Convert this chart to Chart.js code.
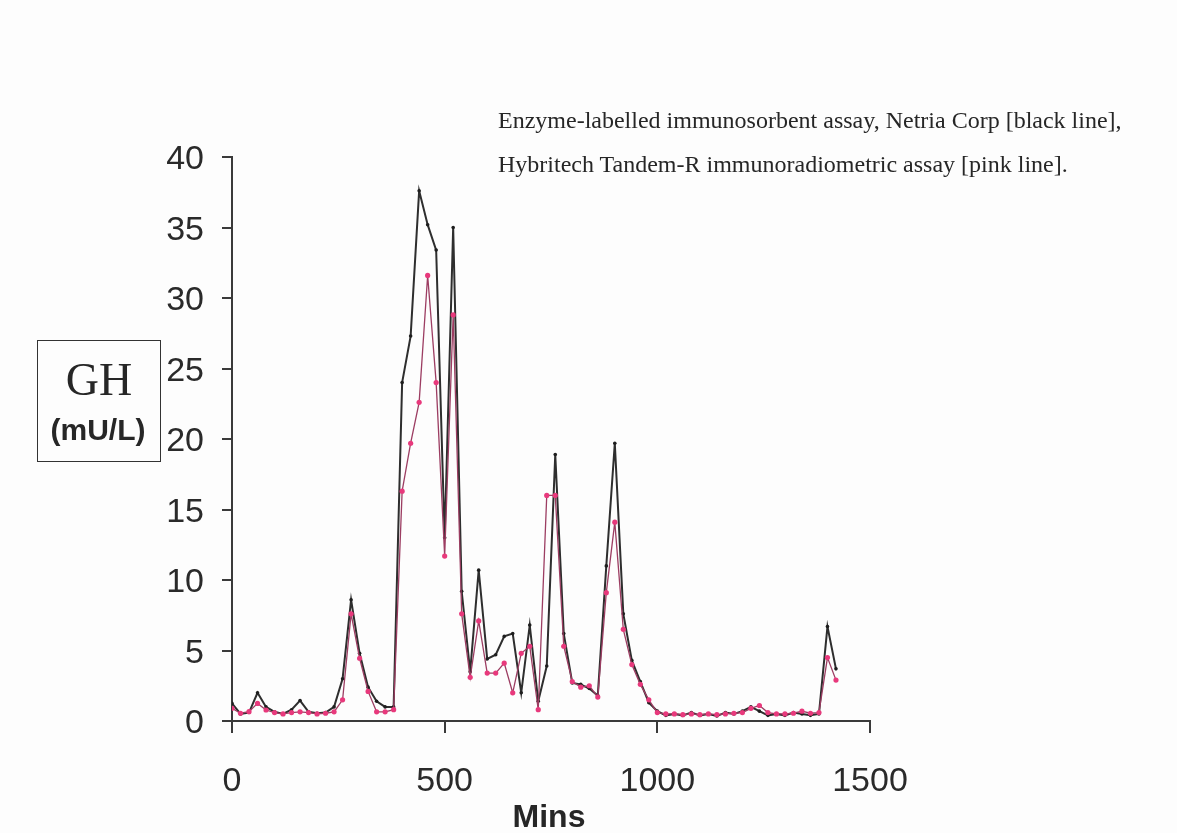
<!DOCTYPE html>
<html>
<head>
<meta charset="utf-8">
<script src="https://cdn.jsdelivr.net/npm/chart.js@4.4.1/dist/chart.umd.min.js"></script>
<style>
  html, body { margin: 0; padding: 0; background: #fdfdfd; }
  #wrap { position: relative; width: 1177px; height: 833px; overflow: hidden; }
  #chart { position: absolute; left: 0; top: 0; }
  .txt { position: absolute; color: #262626; white-space: nowrap; }
  .legend { font-family: "Liberation Serif", "Times New Roman", serif; font-size: 24px; line-height: 24px; transform: translateY(-50%); }
  #ghbox { position: absolute; left: 37px; top: 340px; width: 124px; height: 122px; box-sizing: border-box; border: 1.5px solid #333; }
  .center { transform: translate(-50%, -50%); }
</style>
</head>
<body>
<div id="wrap">
  <canvas id="chart" width="1177" height="833"></canvas>
  <div class="txt legend" style="left:498px; top:120px;">Enzyme-labelled immunosorbent assay, Netria Corp [black line],</div>
  <div class="txt legend" style="left:498px; top:164px;">Hybritech Tandem-R immunoradiometric assay [pink line].</div>
  <div id="ghbox"></div>
  <div class="txt center" style="left:99px; top:380px; font-family:'Liberation Serif',serif; font-size:46px; line-height:46px;">GH</div>
  <div class="txt center" style="left:98px; top:430px; font-family:'Liberation Sans',Arial,sans-serif; font-weight:bold; font-size:30px; line-height:30px;">(mU/L)</div>
  <div class="txt center" style="left:549px; top:816px; font-family:'Liberation Sans',Arial,sans-serif; font-weight:bold; font-size:32px; line-height:32px;">Mins</div>
</div>
<script>
// sampling times (minutes), every 20 min
const mins = [0, 20, 40, 60, 80, 100, 120, 140, 160, 180, 200, 220, 240, 260, 280, 300, 320, 340, 360, 380,
  400, 420, 440, 460, 480, 500, 520, 540, 560, 580, 600, 620, 640, 660, 680, 700, 720, 740, 760, 780,
  800, 820, 840, 860, 880, 900, 920, 940, 960, 980, 1000, 1020, 1040, 1060, 1080, 1100, 1120, 1140, 1160, 1180,
  1200, 1220, 1240, 1260, 1280, 1300, 1320, 1340, 1360, 1380, 1400, 1420];

// GH mU/L, Netria ELISA (black line)
const netria = [1.25, 0.5, 0.6, 2.0, 1.0, 0.65, 0.5, 0.8, 1.45, 0.65, 0.55, 0.6, 1.0, 3.0, 8.6, 4.8, 2.4, 1.4, 1.0, 1.0,
  24.0, 27.3, 37.6, 35.2, 33.4, 13.0, 35.0, 9.2, 3.5, 10.7, 4.4, 4.7, 6.0, 6.2, 2.0, 6.8, 1.4, 3.9, 18.9, 6.2,
  2.7, 2.6, 2.3, 1.8, 11.0, 19.7, 7.6, 4.3, 2.8, 1.3, 0.7, 0.4, 0.5, 0.4, 0.6, 0.4, 0.5, 0.35, 0.6, 0.5,
  0.7, 1.0, 0.7, 0.4, 0.5, 0.4, 0.6, 0.5, 0.4, 0.5, 6.7, 3.7];

// GH mU/L, Hybritech Tandem-R IRMA (pink line)
const hybritech = [0.9, 0.55, 0.66, 1.25, 0.78, 0.6, 0.5, 0.6, 0.65, 0.6, 0.5, 0.55, 0.65, 1.5, 7.6, 4.45, 2.1, 0.65, 0.65, 0.8,
  16.3, 19.7, 22.6, 31.6, 24.0, 11.7, 28.8, 7.6, 3.1, 7.1, 3.4, 3.4, 4.1, 2.0, 4.8, 5.3, 0.8, 16.0, 16.0, 5.3,
  2.8, 2.4, 2.5, 1.7, 9.1, 14.1, 6.5, 4.0, 2.6, 1.5, 0.6, 0.5, 0.5, 0.45, 0.5, 0.45, 0.5, 0.45, 0.5, 0.55,
  0.6, 0.9, 1.1, 0.6, 0.5, 0.5, 0.55, 0.7, 0.55, 0.6, 4.5, 2.9];

const xTicks = [0, 500, 1000, 1500];
const yTicks = [0, 5, 10, 15, 20, 25, 30, 35, 40];

const tickFont = { family: "'Liberation Sans', Arial, sans-serif", size: 34 };

const ctx = document.getElementById('chart');
new Chart(ctx, {
  type: 'line',
  data: {
    datasets: [
      {
        label: 'Hybritech Tandem-R',
        data: mins.map((m, i) => ({ x: m, y: hybritech[i] })),
        borderColor: '#9c3d62',
        borderWidth: 1.3,
        pointRadius: 2.6,
        pointBackgroundColor: '#e8397c',
        pointBorderWidth: 0,
        tension: 0,
        order: 0
      },
      {
        label: 'Netria',
        data: mins.map((m, i) => ({ x: m, y: netria[i] })),
        borderColor: '#2e2e2e',
        borderWidth: 2,
        pointRadius: 1.8,
        pointBackgroundColor: '#1e1e1e',
        pointBorderWidth: 0,
        tension: 0,
        order: 1
      }
    ]
  },
  options: {
    responsive: false,
    animation: false,
    layout: { padding: { left: 0, top: 157, right: 307, bottom: 0 } },
    plugins: { legend: { display: false }, tooltip: { enabled: false } },
    scales: {
      x: {
        type: 'linear',
        min: 0,
        max: 1500,
        afterBuildTicks: s => { s.ticks = xTicks.map(v => ({ value: v })); },
        afterFit: s => { s.height = 112; },
        grid: { drawOnChartArea: false, drawTicks: true, tickLength: 12, color: '#3a3a3a', lineWidth: 2 },
        border: { color: '#3a3a3a', width: 2 },
        ticks: { font: tickFont, color: '#2a2a2a', padding: 28, maxRotation: 0, callback: v => String(v) }
      },
      y: {
        min: 0,
        max: 40,
        afterBuildTicks: s => { s.ticks = yTicks.map(v => ({ value: v })); },
        afterFit: s => { s.width = 232; },
        grid: { drawOnChartArea: false, drawTicks: true, tickLength: 10, color: '#3a3a3a', lineWidth: 2 },
        border: { color: '#3a3a3a', width: 2 },
        ticks: { font: tickFont, color: '#2a2a2a', padding: 18, labelOffset: 3, callback: v => String(v) }
      }
    }
  }
});
</script>
</body>
</html>
